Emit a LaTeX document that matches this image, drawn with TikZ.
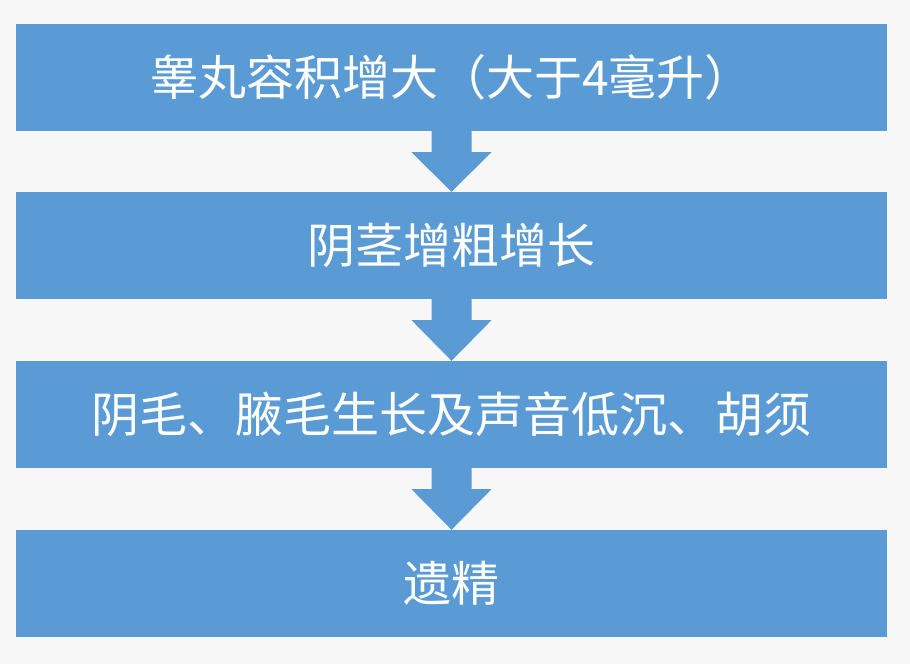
\documentclass[tikz,border=0pt]{standalone}
\usepackage{fontspec}
\setmainfont{Noto Sans CJK SC}
\usetikzlibrary{calc}
\definecolor{stepblue}{HTML}{5B9BD5}
\definecolor{pagebg}{HTML}{F7F7F8}
\tikzset{
  stepbox/.style={fill=stepblue, minimum width=871pt, minimum height=107pt,
    inner sep=0pt, text=white, font=\fontsize{48}{52}\selectfont},
  downarrow/.style={fill=stepblue}
}
\begin{document}
\begin{tikzpicture}[x=1pt,y=1pt]
\fill[pagebg] (0,0) rectangle (910,664);
\useasboundingbox (0,0) rectangle (910,664);
\node[stepbox] (s1) at (451.5,586.5) {睾丸容积增大（大于4毫升）};
\node[stepbox] (s2) at (451.5,418.5) {阴茎增粗增长};
\node[stepbox] (s3) at (451.5,249.5) {阴毛、腋毛生长及声音低沉、胡须};
\node[stepbox] (s4) at (451.5,80.5) {遗精};
% block arrows between the steps
\foreach \a/\b in {s1/s2,s2/s3,s3/s4}
  \fill[downarrow] ($(\a.south)+(-20,0)$) -- ($(\a.south)+(-20,-21)$)
    -- ($(\a.south)+(-40,-21)$) -- (\b.north) -- ($(\a.south)+(40,-21)$)
    -- ($(\a.south)+(20,-21)$) -- ($(\a.south)+(20,0)$) -- cycle;
\end{tikzpicture}
\end{document}
